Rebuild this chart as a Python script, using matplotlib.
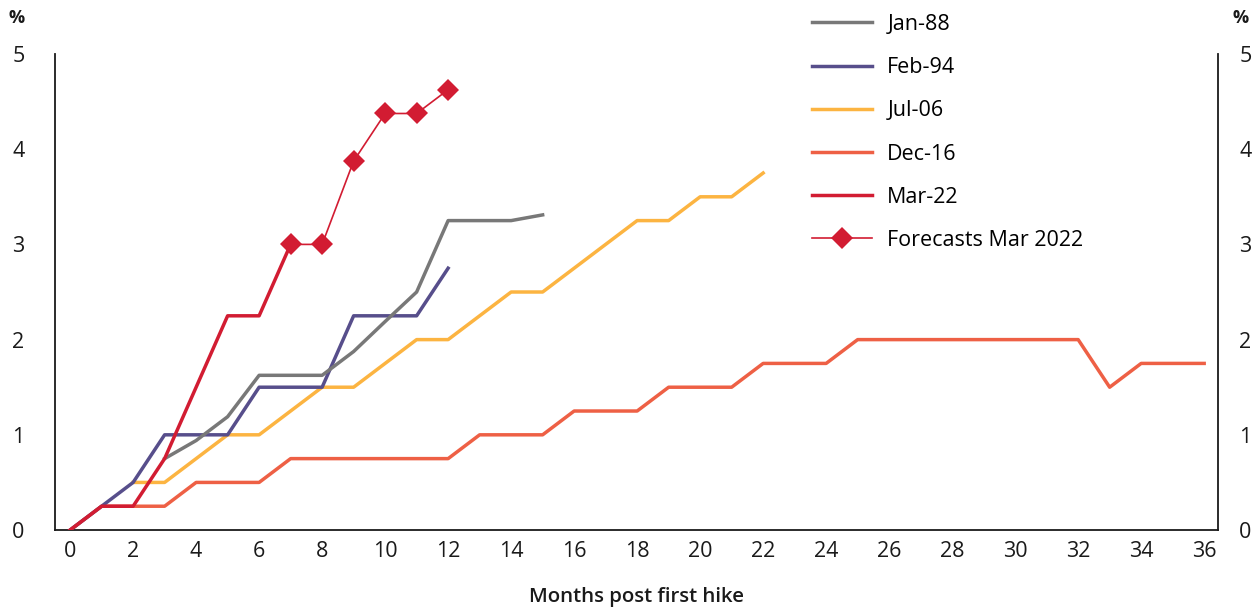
import matplotlib
matplotlib.use("Agg")
import matplotlib.pyplot as plt

plt.rcParams['font.family'] = ['Open Sans', 'DejaVu Sans']

# Cumulative Fed funds rate increase (percentage points) by months after first hike
months_jan88 = list(range(3, 16))
jan88 = [0.75, 0.94, 1.19, 1.625, 1.625, 1.625, 1.875, 2.19, 2.5, 3.25, 3.25, 3.25, 3.31]

months_feb94 = list(range(0, 13))
feb94 = [0, 0.25, 0.5, 1.0, 1.0, 1.0, 1.5, 1.5, 1.5, 2.25, 2.25, 2.25, 2.75]

months_jul06 = list(range(2, 23))
jul06 = [0.5, 0.5, 0.75, 1.0, 1.0, 1.25, 1.5, 1.5, 1.75, 2.0, 2.0, 2.25, 2.5, 2.5,
         2.75, 3.0, 3.25, 3.25, 3.5, 3.5, 3.75]

months_dec16 = list(range(0, 37))
dec16 = [0, 0.25, 0.25, 0.25, 0.5, 0.5, 0.5, 0.75, 0.75, 0.75, 0.75, 0.75, 0.75,
         1.0, 1.0, 1.0, 1.25, 1.25, 1.25, 1.5, 1.5, 1.5, 1.75, 1.75, 1.75,
         2.0, 2.0, 2.0, 2.0, 2.0, 2.0, 2.0, 2.0, 1.5, 1.75, 1.75, 1.75]

months_mar22 = list(range(0, 8))
mar22 = [0, 0.25, 0.25, 0.75, 1.5, 2.25, 2.25, 3.0]

months_fcst = list(range(7, 13))
fcst = [3.0, 3.0, 3.875, 4.375, 4.375, 4.625]

x_ticks = list(range(0, 37, 2))
y_ticks = [0, 1, 2, 3, 4, 5]

c_gray = '#787878'
c_purple = '#574e8b'
c_yellow = '#fcb441'
c_orange = '#ee6045'
c_red = '#d21c32'
c_text = '#1a1a1a'

fig = plt.figure(figsize=(12.57, 6.10), dpi=100)
ax = fig.add_axes([0.04375, 0.1311, 0.9255, 0.7804])

lw = 2.5
l_dec, = ax.plot(months_dec16, dec16, color=c_orange, lw=lw, zorder=2, label='Dec-16')
l_jul, = ax.plot(months_jul06, jul06, color=c_yellow, lw=lw, zorder=3, label='Jul-06')
l_feb, = ax.plot(months_feb94, feb94, color=c_purple, lw=lw, zorder=4, label='Feb-94')
l_jan, = ax.plot(months_jan88, jan88, color=c_gray, lw=lw, zorder=5, label='Jan-88')
l_mar, = ax.plot(months_mar22, mar22, color=c_red, lw=lw, zorder=6, label='Mar-22')
l_fc, = ax.plot(months_fcst, fcst, color=c_red, lw=1.2, marker='D', markersize=11.5,
                markeredgewidth=0, zorder=7, label='Forecasts Mar 2022')

ax.set_xlim(-0.48, 36.45)
ax.set_ylim(0, 5)
ax.set_xticks(x_ticks)
ax.set_yticks(y_ticks)

ax.spines['top'].set_visible(False)
for s in ['left', 'right', 'bottom']:
    ax.spines[s].set_color(c_text)
    ax.spines[s].set_linewidth(1.3)

ax.tick_params(axis='y', length=0, labelsize=15.5, pad=22, colors=c_text)
ax.tick_params(axis='x', length=0, labelsize=15.5, pad=8, colors=c_text)

# mirrored scale on the right-hand side
ax_r = ax.twinx()
ax_r.set_ylim(ax.get_ylim())
ax_r.set_yticks(y_ticks)
ax_r.tick_params(axis='y', length=0, labelsize=15.5, pad=15, colors=c_text)
for s in ['top', 'left', 'bottom', 'right']:
    ax_r.spines[s].set_visible(False)

ax.set_xlabel('Months post first hike', fontsize=14.7, fontweight='semibold',
              color=c_text, labelpad=18)

fig.text(0.007, 0.97, '%', fontsize=13, fontweight='bold', color=c_text,
         ha='left', va='center')
fig.text(0.993, 0.97, '%', fontsize=13, fontweight='bold', color=c_text,
         ha='right', va='center')

handles = [l_jan, l_feb, l_jul, l_dec, l_mar, l_fc]
fig.legend(handles=handles, labels=[h.get_label() for h in handles],
           loc='upper left', bbox_to_anchor=(0.646, 0.977), frameon=False,
           fontsize=15.5, handlelength=2.8, handletextpad=0.7,
           labelspacing=1.03, borderaxespad=0, borderpad=0)

fig.savefig('out.png', dpi=100)
